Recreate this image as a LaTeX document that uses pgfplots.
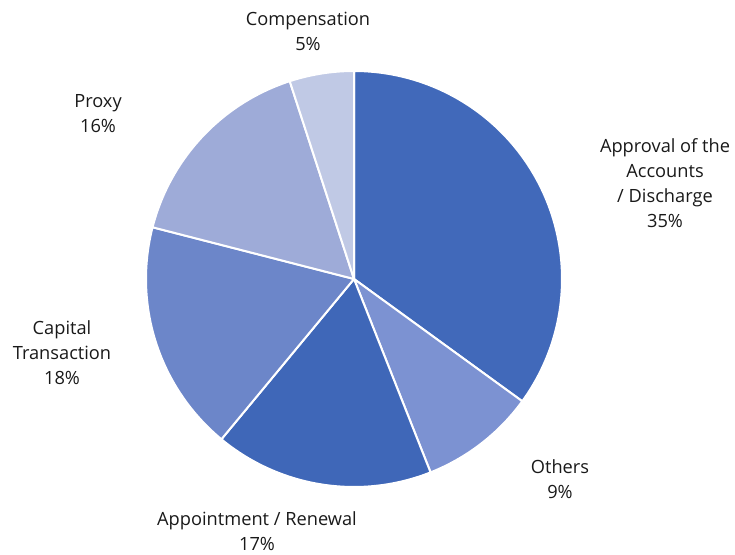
\documentclass[border=0pt]{standalone}
\usepackage{pgfplots}
\pgfplotsset{compat=1.18}
\usepackage{fontspec}
\setmainfont{Open Sans}
\definecolor{cA}{RGB}{65,105,186}
\definecolor{cB}{RGB}{124,146,210}
\definecolor{cC}{RGB}{63,103,184}
\definecolor{cD}{RGB}{108,134,201}
\definecolor{cE}{RGB}{158,171,216}
\definecolor{cF}{RGB}{192,201,229}
% shares in percent (clockwise from 12 o'clock)
\def\pA{35}\def\pB{9}\def\pC{17}\def\pD{18}\def\pE{16}\def\pF{5}
\begin{document}
\begin{tikzpicture}
\begin{axis}[x=1bp,y=1bp,xmin=0,xmax=735,ymin=0,ymax=555,
  hide axis, clip=false, scale only axis]
\path (axis cs:0,0) rectangle (axis cs:735,555);
\pgfmathsetmacro{\aA}{3.6*\pA}
\pgfmathsetmacro{\aB}{\aA+3.6*\pB}
\pgfmathsetmacro{\aC}{\aB+3.6*\pC}
\pgfmathsetmacro{\aD}{\aC+3.6*\pD}
\pgfmathsetmacro{\aE}{\aD+3.6*\pE}
\pgfmathsetmacro{\aF}{\aE+3.6*\pF}
\addplot[fill=cA,draw=white,line width=2bp,line join=round,domain=0:\aA,samples=90,variable=\t]
  ({354+208*sin(t)},{276+208*cos(t)}) -- (axis cs:354,276) -- cycle;
\addplot[fill=cB,draw=white,line width=2bp,line join=round,domain=\aA:\aB,samples=30,variable=\t]
  ({354+208*sin(t)},{276+208*cos(t)}) -- (axis cs:354,276) -- cycle;
\addplot[fill=cC,draw=white,line width=2bp,line join=round,domain=\aB:\aC,samples=50,variable=\t]
  ({354+208*sin(t)},{276+208*cos(t)}) -- (axis cs:354,276) -- cycle;
\addplot[fill=cD,draw=white,line width=2bp,line join=round,domain=\aC:\aD,samples=50,variable=\t]
  ({354+208*sin(t)},{276+208*cos(t)}) -- (axis cs:354,276) -- cycle;
\addplot[fill=cE,draw=white,line width=2bp,line join=round,domain=\aD:\aE,samples=50,variable=\t]
  ({354+208*sin(t)},{276+208*cos(t)}) -- (axis cs:354,276) -- cycle;
\addplot[fill=cF,draw=white,line width=2bp,line join=round,domain=\aE:\aF,samples=20,variable=\t]
  ({354+208*sin(t)},{276+208*cos(t)}) -- (axis cs:354,276) -- cycle;
\tikzset{lbl/.style={align=center,text=black!90,font=\fontsize{18.3}{25}\selectfont}}
\node[lbl] at (axis cs:308,524) {Compensation\\5\%};
\node[lbl] at (axis cs:665,372) {Approval of the\\Accounts\\/ Discharge\\35\%};
\node[lbl] at (axis cs:98,441) {Proxy\\16\%};
\node[lbl] at (axis cs:62,202) {Capital\\Transaction\\18\%};
\node[lbl] at (axis cs:257,24) {Appointment / Renewal\\17\%};
\node[lbl] at (axis cs:560,76) {Others\\9\%};
\end{axis}
\end{tikzpicture}
\end{document}
